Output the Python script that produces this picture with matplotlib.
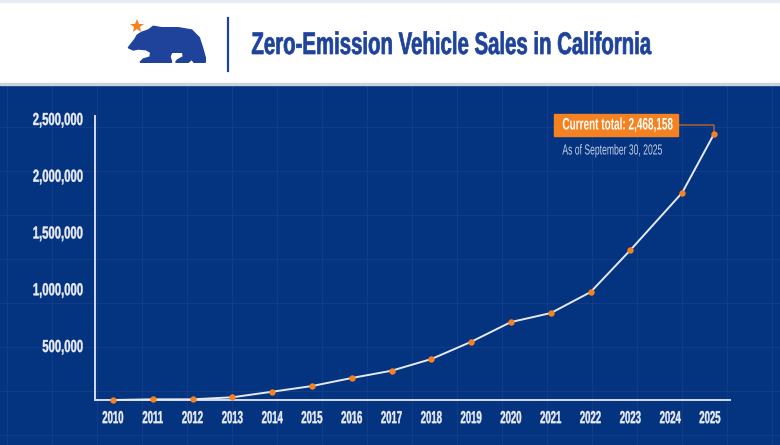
import matplotlib
matplotlib.use("Agg")
import matplotlib.pyplot as plt
from matplotlib.patches import Polygon, Rectangle
from matplotlib.patheffects import AbstractPathEffect
from matplotlib.transforms import Affine2D

# values
point_x = [2010, 2011, 2012, 2013, 2014, 2015, 2016, 2017, 2018, 2019, 2020, 2021, 2022, 2023, 2024.3, 2025.1]
sales = [24000, 30000, 30000, 48000, 97000, 147000, 218000, 282000, 385000, 537000, 711000, 790000, 975000, 1345000, 1850000, 2367000]
years = list(range(2010, 2026))
y_ticks = [500000, 1000000, 1500000, 2000000, 2500000]
title = "Zero-Emission Vehicle Sales in California"
current_label = "Current total: 2,468,158"
date_label = "As of September 30, 2025"

W, H = 780, 445
NAVY = "#04337f"
GRID = "#113c87"
ORANGE = "#f58220"
BLUE = "#1f439b"
LIGHT = "#e9ecf5"
YEAR_PX = 39.8
VALUE_PX = 56.75 / 500000


class Condensed(AbstractPathEffect):
    # the installed fonts have no condensed cut, so squeeze the glyphs around the centre
    def __init__(self, factor, align=0.5, weight=0.0):
        super().__init__()
        self.factor = factor
        self.align = align
        self.weight = weight

    def draw_path(self, renderer, gc, tpath, affine, rgbFace=None):
        box = tpath.get_extents(affine)
        anchor = box.x0 + box.width * self.align
        squeeze = Affine2D().translate(-anchor, 0).scale(self.factor, 1).translate(anchor, 0)
        gc0 = renderer.new_gc()
        gc0.copy_properties(gc)
        if self.weight:
            gc0.set_linewidth(self.weight)
            gc0.set_foreground(rgbFace)
        renderer.draw_path(gc0, tpath, affine + squeeze, rgbFace)
        gc0.restore()


plt.rcParams["font.family"] = ["Liberation Sans", "DejaVu Sans"]

fig = plt.figure(figsize=(W / 100, H / 100), dpi=100, facecolor=NAVY)

# background in pixel coordinates
bg = fig.add_axes([0, 0, 1, 1])
bg.set_xlim(0, W)
bg.set_ylim(H, 0)
bg.axis("off")
for gx in range(7, W, 45):
    bg.plot([gx, gx], [84, H], color=GRID, lw=0.8, zorder=1)
for gy in range(127, H, 44):
    bg.plot([0, W], [gy, gy], color=GRID, lw=0.8, zorder=1)
bg.add_patch(Rectangle((0, 0), W, 84, color="white", zorder=2))
bg.add_patch(Rectangle((0, 0), W, 1.5, color="#e8ecf5", zorder=3))
bg.add_patch(Rectangle((0, 83), W, 1.5, color="#c9d0de", zorder=3))

# logo and title
bear = [(128.3, 47.7), (131.7, 43.3), (135, 39), (137.3, 35), (141.7, 32.3), (148.3, 30), (153.3, 26.3),
        (161.7, 27.7), (178.3, 27.7), (191.7, 30), (199.3, 37.7), (202.7, 48.3), (205.3, 57.7), (205.3, 62.3),
        (194, 62.3), (191.7, 59.3), (188.3, 62.3), (175.7, 62.3), (177.3, 60), (183.3, 56.7), (182.7, 52.3),
        (171.7, 52.3), (170, 56.7), (171.7, 62.3), (140, 62.3), (143.3, 59), (150, 57), (150.7, 52.3),
        (146, 49.7), (138.3, 49), (133.3, 50)]
bg.add_patch(Polygon(bear, closed=True, color=BLUE, zorder=4))
bg.plot([137.4], [25.5], marker="*", ms=10.5, color=ORANGE, mew=0, zorder=4)
bg.plot([227.5, 227.5], [18, 71], color=BLUE, lw=1.6, zorder=4)
bg.text(451, 46, title, color=BLUE, fontsize=22.5, fontweight="bold", va="center", ha="center", zorder=4,
        path_effects=[Condensed(0.652, weight=0.5)])

# chart
ax = fig.add_axes([95 / W, 1 - 400 / H, (730 - 95) / W, (400 - 116) / H])
ax.patch.set_alpha(0)
ax.set_xlim(2010 - 18 / YEAR_PX, 2010 + (730 - 113) / YEAR_PX)
ax.set_ylim(24000, 24000 + 284 / VALUE_PX)
ax.plot(point_x, sales, color="#e6e9f3", lw=1.4, zorder=3, clip_on=False)
ax.plot(point_x, sales, ls="none", marker="o", ms=4.6, color=ORANGE, mew=0, zorder=4, clip_on=False)

for side in ["top", "right"]:
    ax.spines[side].set_visible(False)
for side in ["left", "bottom"]:
    ax.spines[side].set_color("#d5dbea")
    ax.spines[side].set_linewidth(1.4)

ax.set_xticks(years)
ax.set_xticklabels(years, fontsize=12.5, fontweight="bold", color=LIGHT)
ax.set_yticks(y_ticks)
ax.set_yticklabels([f"{v:,}" for v in y_ticks], fontsize=12.5, fontweight="bold", color=LIGHT)
ax.tick_params(axis="x", length=0, pad=8)
ax.tick_params(axis="y", length=0, pad=8.4)
for label in ax.get_xticklabels():
    label.set_path_effects([Condensed(0.55, weight=0.3)])
for label in ax.get_yticklabels():
    label.set_path_effects([Condensed(0.65, align=1, weight=0.3)])

# callout
bg.add_patch(Rectangle((554, 114), 123.7, 21.7, color=ORANGE, zorder=5))
bg.text(617.5, 125, current_label, color="white", fontsize=12, fontweight="bold", ha="center", va="center", zorder=6,
        path_effects=[Condensed(0.6)])
bg.plot([677, 714, 714], [125.3, 125.3, 133], color="#a8622f", lw=1.1, zorder=2.5)
bg.text(613, 150.5, date_label, color="#c4cde3", fontsize=10.5, ha="center", va="center", zorder=6,
        path_effects=[Condensed(0.59)])

fig.savefig("out.png", dpi=100, facecolor=NAVY)
